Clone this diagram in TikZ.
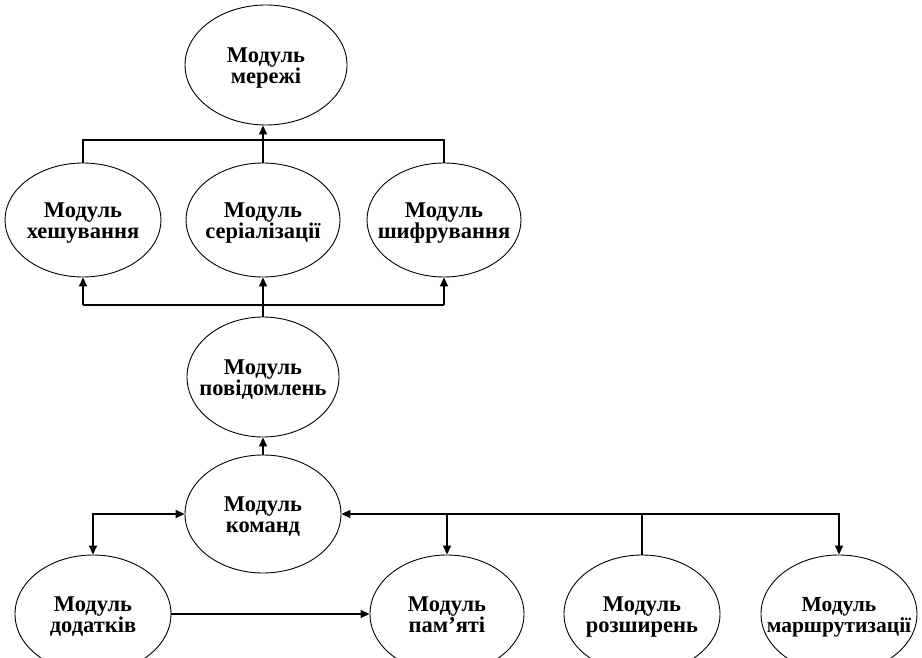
\documentclass[tikz,border=0pt]{standalone}
\usepackage{fontspec}
\setmainfont{Liberation Serif}
\usetikzlibrary{arrows.meta,shapes.geometric}
\begin{document}
\begin{tikzpicture}[x=1pt,y=-1pt,
  module/.style={ellipse, draw=black, line width=0.9pt, inner sep=0pt,
    minimum width=156pt, minimum height=118pt},
  caption/.style={align=center, inner sep=0pt, yshift=-4pt,
    font=\fontsize{22.5}{21}\selectfont\bfseries,
    execute at begin node=\strut, execute at end node=\strut},
  link/.style={line width=1.6pt, -{Triangle[length=9pt,width=8pt]}},
  plain/.style={line width=1.6pt}]
\useasboundingbox (0,0) rectangle (922,658);
\clip (0,0) rectangle (922,658);

% modules
\node[module, minimum width=162pt, minimum height=120pt] (net) at (266,65) {};
\node[module, minimum height=114pt] (hash) at (83,220) {};
\node[module, minimum width=154pt, minimum height=114pt] (ser) at (263,220) {};
\node[module, minimum width=154pt, minimum height=114pt] (enc) at (444,220) {};
\node[module, minimum width=152pt, minimum height=120pt] (msg) at (263,377) {};
\node[module] (cmd) at (263,514) {};
\node[module] (app) at (93,614) {};
\node[module, minimum width=154pt] (mem) at (447,614) {};
\node[module] (ext) at (642,614) {};
\node[module] (route) at (839,614) {};

% captions
\node[caption] (tnet) at (net) {Модуль\\мережі};
\node[caption] (thash) at (hash) {Модуль\\хешування};
\node[caption] (tser) at (ser) {Модуль\\серіалізації};
\node[caption] (tenc) at (enc) {Модуль\\шифрування};
\node[caption] (tmsg) at (msg) {Модуль\\повідомлень};
\node[caption] (tcmd) at (cmd) {Модуль\\команд};
\node[caption] (tapp) at (app) {Модуль\\додатків};
\node[caption] (tmem) at (mem) {Модуль\\пам'яті};
\node[caption] (text) at (ext) {Модуль\\розширень};
\node[caption, font=\fontsize{21.5}{21}\selectfont\bfseries] (troute) at (route) {Модуль\\маршрутизації};

% upper bus into the network module
\coordinate (tb) at (263,140);
\draw[plain] (hash.north) -- (hash.north |- tb) -- (enc.north |- tb) -- (enc.north);
\draw[link] (ser.north) -- (ser.north |- net.south);

% lower bus from the message module
\coordinate (bb) at (263,305);
\draw[plain] (hash.south |- bb) -- (enc.south |- bb);
\draw[plain] (msg.north) -- (msg.north |- bb);
\draw[link] (hash.south |- bb) -- (hash.south);
\draw[link] (ser.south |- bb) -- (ser.south);
\draw[link] (enc.south |- bb) -- (enc.south);

% command module
\draw[link] (cmd.north) -- (msg.south);
\draw[plain, {Triangle[length=9pt,width=8pt]}-{Triangle[length=9pt,width=8pt]}]
  (app.north) |- (cmd.west);
\draw[plain, {Triangle[length=9pt,width=8pt]}-{Triangle[length=9pt,width=8pt]}]
  (cmd.east) -| (route.north);
\draw[link] (mem.north |- cmd.east) -- (mem.north);
\draw[plain] (ext.north |- cmd.east) -- (ext.north);
\draw[link] (app.east) -- (mem.west);
\end{tikzpicture}
\end{document}
